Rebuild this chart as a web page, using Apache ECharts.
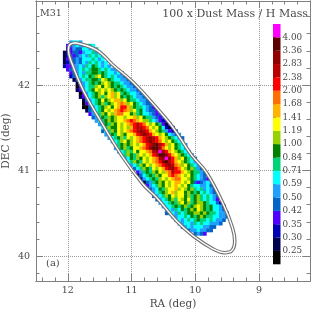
<!DOCTYPE html>
<html><head><meta charset="utf-8">
<style>html,body{margin:0;padding:0;background:#fff}#c{width:314px;height:312px}</style>
<script src="https://cdn.jsdelivr.net/npm/echarts@6/dist/echarts.min.js"></script>
</head><body><div id="c"></div>
<script>
// colour-bar boundaries, bottom to top
const barLabels = ['0.25','0.30','0.35','0.42','0.50','0.59','0.71','0.84','1.00','1.19','1.41','1.68','2.00','2.38','2.83','3.36','4.00'];
const barColors = ['#000000','#000050','#0000b4','#5000ff','#0064c8','#1ea0ff','#00ffff','#00d278','#008200','#96d200','#ffff00','#ffb400','#ff6e00','#ff0000','#b90000','#910000','#5a0000','#ff00ff'];
// representative value of each bin, index = letter in mapRows
const binValues = [0.22,0.27,0.32,0.38,0.46,0.54,0.65,0.77,0.92,1.09,1.30,1.54,1.84,2.19,2.60,3.08,3.66,4.40];
const binLetters = '0123456789abcdefgh';
const raMajor = [12,11,10,9];
const raMinor = [12.4,12.2,11.8,11.6,11.4,11.2,10.8,10.6,10.4,10.2,9.8,9.6,9.4,9.2,8.8,8.6,8.4];
const decMajor = [40,41,42];
const decMinor = [39.8,40.2,40.4,40.6,40.8,41.2,41.4,41.6,41.8,42.2,42.4,42.6,42.8];
const raFirst = 12.1, raStep = 0.05, decFirst = 42.5, decStep = 0.04;
// dust/H map: one string per declination row, starting at column mapStart[row]
const mapStart = [3,2,2,1,1,1,1,1,2,3,3,4,5,5,5,6,6,7,7,7,8,9,10,11,12,13,13,14,15,16,17,17,18,19,20,21,22,23,24,24,25,26,27,28,29,29,30,31,32,33,33,35,36,37,38,40,42];
const mapRows = [
'5665','345654676','2354466567','123443566756','1243456576767','1334546667656','12445465767656','233556576876565',
'3455676788767655','34565778878766564','245676879a87676554','145677887a98766554','145678789a98776554','0356779a8a987876554',
'135678a9a9a987876554','0356789a8ab9a7876654','135678979ab9a87876554','145678a89abb9a8776554',
'0356789789abcb9a876544','00456789a8abddb98776543','145678a9abcdcb9a7865443','356798a9bccaa8978665434',
'45687989aa9aab9a8775434','5678989aabcdcba99765323','568798a9abcdedca9a87313','67988a9a9bdeedca9a86212',
'46798a9abcdefedba9875324','5687a98aabdefedba9a86545','567897a9abcdefedba987654','5679a89abcdefedca9a8765',
'678989a9abdefgedb9a8765','578978aabcdfggeca9a8765','56797a8aabcefhfdba98765','679879a9abdeggfdba98765',
'568798a9abcefhfdb9a8764','67987a9abcdfgedba98765','56798a9abcdefecb9a8765','467987a9abdefdca989754',
'3578798a9bceddba987754','14678798aacdcba9a87654','2567879a9abccaa9876543','1457898a9abba9a8434565',
'356798a9aba9a87665564','456879aab9a9897675654','56789ab9aa8987867654','456798a9aa89789767654',
'4567897a98a789767653','5667879a897899876642','56678789789a98786652','5657687898a98786654',
'45657678899898776554','556676878987766554','5656767877676554','55665767665554','45656665544','45565544','4543'
];
// the outline drawn on the map
const outlineRA  = [11.886,11.547,11.292,10.980,10.605,10.344,10.058,9.823,9.562,9.417,9.381,9.433,9.542,9.719,10.031,10.292,10.605,10.823,11.159,11.495,11.761,11.938,11.991,11.975,11.886];
const outlineDEC = [42.495,42.409,42.234,42.035,41.731,41.497,41.181,40.974,40.608,40.331,40.175,40.058,40.039,40.082,40.234,40.409,40.682,40.842,41.181,41.591,41.942,42.257,42.409,42.468,42.495];

const cells = [];
mapRows.forEach((row, j) => {
  [...row].forEach((ch, k) => {
    const i = mapStart[j] + k;
    const bin = binLetters.indexOf(ch);
    cells.push([raFirst - raStep * i, decFirst - decStep * j, binValues[bin], bin]);
  });
});
const outline = outlineRA.map((r, i) => [r, outlineDEC[i]]);
const barData = barColors.map((c, i) => [i]);

const fontFam = 'DejaVu Serif', txt = '#484848', axisC = '#808080';
const xBase = {type:'value', gridIndex:0, min:8.2, max:12.5, inverse:true, splitLine:{show:false}, axisLabel:{show:false},
  axisLine:{onZero:false,lineStyle:{color:axisC}}};
const yBase = {type:'value', gridIndex:0, min:39.708, max:42.983, splitLine:{show:false}, axisLabel:{show:false},
  axisLine:{onZero:false,lineStyle:{color:axisC}}};
const grid = {show:true,type:'dotted',color:'#999',width:1};
const option = {
  animation:false, backgroundColor:'#fff',
  grid:[{left:36,top:1,width:274,height:280,outerBoundsMode:'none'},{left:273,top:24,width:7.5,height:240.3,outerBoundsMode:'none'}],
  xAxis:[
    {...xBase, position:'bottom', name:'RA (deg)', nameLocation:'middle', nameGap:18, nameMoveOverlap:false,
      nameTextStyle:{fontFamily:fontFam,fontSize:10.5,color:txt},
      splitLine:{show:true,lineStyle:grid},
      axisTick:{inside:true,length:7,customValues:raMajor,lineStyle:{color:axisC}},
      axisLabel:{show:true,customValues:raMajor,margin:5,fontFamily:fontFam,fontSize:9.5,color:txt}},
    {...xBase, position:'bottom', axisTick:{inside:true,length:3.5,customValues:raMinor,lineStyle:{color:axisC}}},
    {...xBase, position:'top', axisTick:{inside:true,length:7,customValues:raMajor,lineStyle:{color:axisC}}},
    {...xBase, position:'top', axisTick:{inside:true,length:3.5,customValues:raMinor,lineStyle:{color:axisC}}},
    {type:'value',gridIndex:1,min:0,max:1,show:false}
  ],
  yAxis:[
    {...yBase, position:'left', name:'DEC (deg)', nameLocation:'middle', nameGap:24, nameMoveOverlap:false,
      nameTextStyle:{fontFamily:fontFam,fontSize:10.5,color:txt},
      splitLine:{show:true,lineStyle:grid},
      axisTick:{inside:true,length:7,customValues:decMajor,lineStyle:{color:axisC}},
      axisLabel:{show:true,customValues:decMajor,margin:6,fontFamily:fontFam,fontSize:9.5,color:txt}},
    {...yBase, position:'left', axisTick:{inside:true,length:3.5,customValues:decMinor,lineStyle:{color:axisC}}},
    {...yBase, position:'right', axisTick:{inside:true,length:7,customValues:decMajor,lineStyle:{color:axisC}}},
    {...yBase, position:'right', axisTick:{inside:true,length:3.5,customValues:decMinor,lineStyle:{color:axisC}}},
    {type:'value',gridIndex:1,min:0,max:18,position:'right',
      axisLine:{show:false},splitLine:{show:false},
      axisTick:{show:true,length:3,customValues:barLabels.map((l,i)=>i+1),lineStyle:{color:'#444'}},
      axisLabel:{show:true,margin:2,customValues:barLabels.map((l,i)=>i+1),
        formatter:v=>barLabels[Math.round(v)-1]||'',fontFamily:fontFam,fontSize:8.8,color:txt}}
  ],
  series:[
    {type:'custom',xAxisIndex:0,yAxisIndex:0,data:cells,encode:{x:0,y:1},silent:true,z:2,
      renderItem:(p,api)=>{
        const c=api.coord([api.value(0),api.value(1)]), s=api.size([raStep,decStep]);
        const w=s[0]+0.4,h=s[1]+0.4;
        return {type:'rect',shape:{x:c[0]-w/2,y:c[1]-h/2,width:w,height:h},style:{fill:barColors[api.value(3)]}};
      }},
    {type:'line',xAxisIndex:0,yAxisIndex:0,data:outline,smooth:0.4,showSymbol:false,silent:true,z:3,
      lineStyle:{color:'#707070',width:3.6}},
    {type:'line',xAxisIndex:0,yAxisIndex:0,data:outline,smooth:0.4,showSymbol:false,silent:true,z:4,
      lineStyle:{color:'#ffffff',width:1.4}},
    {type:'custom',xAxisIndex:4,yAxisIndex:4,data:barData,silent:true,z:5,
      renderItem:(p,api)=>{
        const k=api.value(0), a=api.coord([0,k]), b=api.coord([1,k+1]);
        return {type:'rect',shape:{x:a[0],y:b[1],width:b[0]-a[0],height:a[1]-b[1]},style:{fill:barColors[k]}};
      }}
  ],
  graphic:[
    {type:'text',left:40,top:9,style:{text:'M31',font:'9.5px '+fontFam,fill:txt}},
    {type:'text',right:6,top:9,style:{text:'100 x Dust Mass / H Mass',font:'11px '+fontFam,fill:txt}},
    {type:'text',left:46,top:258,style:{text:'(a)',font:'10px '+fontFam,fill:txt}}
  ]
};
const chart = echarts.init(document.getElementById('c'),null,{renderer:'canvas'});
chart.setOption(option);
</script></body></html>
